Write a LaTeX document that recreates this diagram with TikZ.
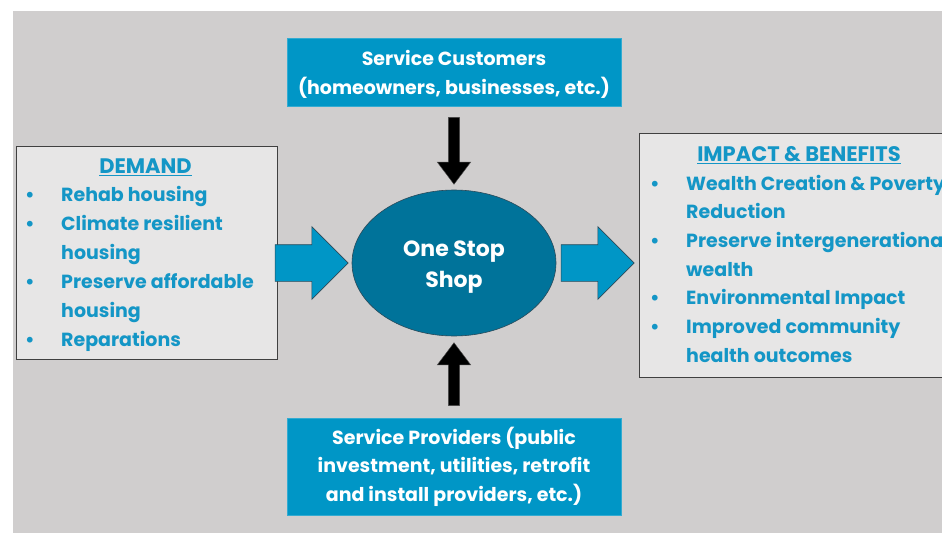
\documentclass[tikz,border=0pt]{standalone}
\usepackage{fontspec}
\setmainfont{Poppins}
\usetikzlibrary{shapes.geometric,shapes.arrows}
\definecolor{bggrey}{HTML}{D0CECE}
\definecolor{boxgrey}{HTML}{E7E6E6}
\definecolor{boxline}{HTML}{404040}
\definecolor{cblue}{HTML}{0096C6}
\definecolor{tblue}{HTML}{1496C6}
\definecolor{ossblue}{HTML}{00739A}
\definecolor{ossline}{HTML}{2A4A5A}
\begin{document}
\begin{tikzpicture}[x=1pt,y=-1pt,
  bluebox/.style={fill=cblue, draw=cblue!80!white, inner sep=0pt},
  greybox/.style={fill=boxgrey, draw=boxline, line width=0.9pt, inner sep=0pt},
  wtext/.style={text=white, font=\fontsize{19}{23}\selectfont\bfseries, inner sep=0pt, anchor=base},
  btext/.style={text=tblue, font=\fontsize{19}{23}\selectfont\bfseries, inner sep=0pt, anchor=base west},
  ttext/.style={text=tblue, font=\fontsize{21}{25}\selectfont\bfseries, inner sep=0pt, anchor=base},
  barrow/.style={single arrow, fill=cblue, draw=ossline, line width=0.6pt, inner xsep=0pt, inner ysep=18pt,
    minimum height=73pt, minimum width=72pt, single arrow head extend=18pt},
  karrow/.style={single arrow, fill=black, draw=black!70, line width=0.4pt, inner xsep=0pt, inner ysep=5.5pt,
    minimum width=33pt, single arrow head extend=11pt, single arrow tip angle=74}
]
\useasboundingbox (0,0) rectangle (942,535);
\clip (0,0) rectangle (942,535);
\fill[bggrey] (13,11) rectangle (942,533);

% top box
\node[bluebox, minimum width=334pt, minimum height=68pt] (cust) at (454,72) {};
\node[wtext] (cust1) at (454,65.7) {Service Customers};
\node[wtext] (cust2) at (454,94) {(homeowners, businesses, etc.)};

% bottom box
\node[bluebox, minimum width=334pt, minimum height=97pt] (prov) at (454,466.5) {};
\node[wtext] (prov1) at (454,444.3) {Service Providers (public};
\node[wtext] (prov2) at (454,472.7) {investment, utilities, retrofit};
\node[wtext] (prov3) at (454,501.2) {and install providers, etc.)};

% one stop shop
\node[ellipse, fill=ossblue, draw=ossline, line width=0.6pt, minimum width=204pt, minimum height=146pt] (oss) at (454,263) {};
\node[wtext, font=\fontsize{22}{26}\selectfont\bfseries] (oss1) at (454,256) {One Stop};
\node[wtext, font=\fontsize{22}{26}\selectfont\bfseries] (oss2) at (454,287) {Shop};

% demand box
\node[greybox, minimum width=261pt, minimum height=213pt] (demand) at (146.5,252.5) {};
\node[ttext] (dtitle) at (145.5,173.3) {\underline{DEMAND}};
\node[btext] (d1) at (25,201.7) {\makebox[36pt][l]{•}Rehab housing};
\node[btext] (d2) at (25,230.7) {\makebox[36pt][l]{•}Climate resilient};
\node[btext] (d3) at (25,259.7) {\hspace*{36pt}housing};
\node[btext] (d4) at (25,288.7) {\makebox[36pt][l]{•}Preserve affordable};
\node[btext] (d5) at (25,317.7) {\hspace*{36pt}housing};
\node[btext] (d6) at (25,346.7) {\makebox[36pt][l]{•}Reparations};

% impact box
\node[greybox, minimum width=321pt, minimum height=244pt] (impact) at (799.5,255) {};
\node[ttext] (ititle) at (799,161.7) {\underline{IMPACT \& BENEFITS}};
\node[btext] (i1) at (650,190) {\makebox[36pt][l]{•}Wealth Creation \& Poverty};
\node[btext] (i2) at (650,218.7) {\hspace*{36pt}Reduction};
\node[btext] (i3) at (650,247.3) {\makebox[36pt][l]{•}Preserve intergenerational};
\node[btext] (i4) at (650,276) {\hspace*{36pt}wealth};
\node[btext] (i5) at (650,304.7) {\makebox[36pt][l]{•}Environmental Impact};
\node[btext] (i6) at (650,333.3) {\makebox[36pt][l]{•}Improved community};
\node[btext] (i7) at (650,362) {\hspace*{36pt}health outcomes};

% arrows
\node[barrow] (ain) at (302.5,263) {};
\node[barrow] (aout) at (588.5,263) {};
\node[karrow, minimum height=67pt, rotate=-90] (atop) at (454,147) {};
\node[karrow, minimum height=63pt, rotate=90] (abot) at (454,378) {};
\end{tikzpicture}
\end{document}
